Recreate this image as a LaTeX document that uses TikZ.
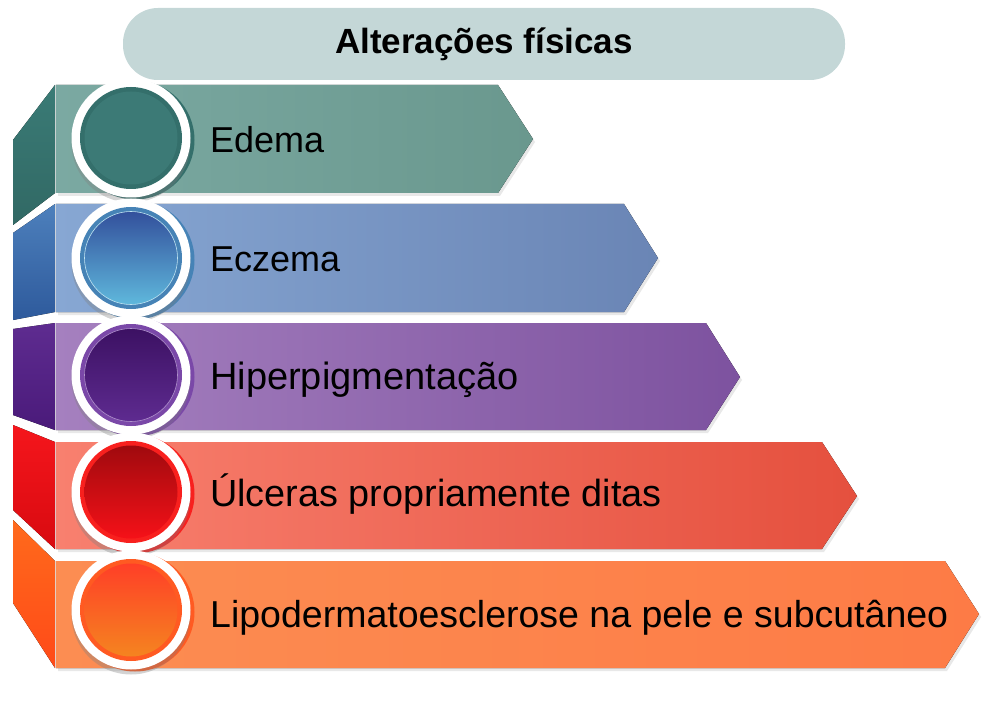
\documentclass[tikz,border=0pt]{standalone}
\usepackage{fontspec}
\setmainfont{Liberation Sans}
\usetikzlibrary{shadows}

% band colours
\definecolor{tealside}{HTML}{3A7B76}
\definecolor{tealfrontA}{HTML}{7BA9A2}
\definecolor{tealfrontB}{HTML}{6A988E}
\definecolor{tealdot}{HTML}{3C7A76}
\definecolor{tealring}{HTML}{346F6B}
\definecolor{blueside}{HTML}{4D80BC}
\definecolor{bluesideB}{HTML}{2E5A9C}
\definecolor{bluefrontA}{HTML}{87A7D3}
\definecolor{bluefrontB}{HTML}{6A85B5}
\definecolor{bluedotA}{HTML}{33509C}
\definecolor{bluedotB}{HTML}{5FB8DC}
\definecolor{bluering}{HTML}{4683B6}
\definecolor{purpside}{HTML}{5E2C90}
\definecolor{purpsideB}{HTML}{4A1A7A}
\definecolor{purpfrontA}{HTML}{A580BF}
\definecolor{purpfrontB}{HTML}{7D529F}
\definecolor{purpdotA}{HTML}{3C1163}
\definecolor{purpdotB}{HTML}{5E2B90}
\definecolor{purpring}{HTML}{7A48A8}
\definecolor{redside}{HTML}{F5161C}
\definecolor{redsideB}{HTML}{D80A10}
\definecolor{redfrontA}{HTML}{F8806F}
\definecolor{redfrontB}{HTML}{E5503E}
\definecolor{reddotA}{HTML}{A00A0E}
\definecolor{reddotB}{HTML}{F51118}
\definecolor{redring}{HTML}{F8201E}
\definecolor{orgside}{HTML}{FF6A1C}
\definecolor{orgsideB}{HTML}{FF4A18}
\definecolor{orgfrontA}{HTML}{FC8D52}
\definecolor{orgfrontB}{HTML}{FD7B46}
\definecolor{orgdotA}{HTML}{FF3F27}
\definecolor{orgdotB}{HTML}{F58420}
\definecolor{orgring}{HTML}{FF5A22}
\definecolor{headfill}{HTML}{C4D7D7}

\tikzset{
  itemtext/.style={anchor=base west, inner sep=0pt, text=black,
    font=\fontsize{36}{40}\selectfont},
  bandshadow/.style={drop shadow={opacity=0.18, shadow xshift=2pt, shadow yshift=-3pt}},
  whitering/.style={circle, fill=white, minimum size=119pt, inner sep=0pt,
    drop shadow={opacity=0.35, shadow xshift=0pt, shadow yshift=-5pt}},
  backring/.style={circle, minimum size=119pt, inner sep=0pt},
  colring/.style={circle, minimum size=102pt, inner sep=0pt},
  dot/.style={circle, minimum size=93pt, inner sep=0pt}
}

\begin{document}
\begin{tikzpicture}[x=1pt, y=-1pt]
  \useasboundingbox (0,0) rectangle (1001,714);

  % Title
  \node[fill=headfill, rounded corners=35pt, minimum width=722pt, minimum height=72pt,
        font=\bfseries\fontsize{35}{40}\selectfont] (title) at (484,44) {Alterações físicas};

  % Band 1 - Edema
  \fill[top color=tealside, bottom color=tealside!85!black] (13,140) -- (55,85) -- (55,193) -- (13,225) -- cycle;
  \fill[bandshadow, left color=tealfrontA, right color=tealfrontB]
    (56,85) -- (498,85) -- (533,139) -- (498,193) -- (56,193) -- cycle;
  \node[backring, fill=tealring] (back1) at (135,140) {};
  \node[whitering] (ring1) at (131,138) {};
  \node[colring, fill=tealring] (col1) at (ring1) {};
  \node[dot, fill=tealdot] (dot1) at (ring1) {};
  \node[itemtext] (t1) at (210,153) {Edema};

  % Band 2 - Eczema
  \fill[top color=blueside, bottom color=bluesideB] (13,233) -- (55,204) -- (55,312) -- (13,320) -- cycle;
  \fill[bandshadow, left color=bluefrontA, right color=bluefrontB]
    (56,204) -- (624,204) -- (658,258) -- (624,312) -- (56,312) -- cycle;
  \node[backring, fill=bluering] (back2) at (135,260) {};
  \node[whitering] (ring2) at (131,258) {};
  \node[colring, fill=bluering] (col2) at (ring2) {};
  \node[dot, top color=bluedotA, bottom color=bluedotB, draw=white!60!bluedotB, line width=0.6pt] (dot2) at (ring2) {};
  \node[itemtext] (t2) at (210,271) {Eczema};

  % Band 3 - Hiperpigmentacao
  \fill[top color=purpside, bottom color=purpsideB] (13,329) -- (55,323) -- (55,430) -- (13,415) -- cycle;
  \fill[bandshadow, left color=purpfrontA, right color=purpfrontB]
    (56,323) -- (706,323) -- (740,377) -- (706,430) -- (56,430) -- cycle;
  \node[backring, fill=purpring] (back3) at (135,377) {};
  \node[whitering] (ring3) at (131,375) {};
  \node[colring, fill=purpring] (col3) at (ring3) {};
  \node[dot, top color=purpdotA, bottom color=purpdotB, draw=purpring!60!white, line width=0.6pt] (dot3) at (ring3) {};
  \node[itemtext, font=\fontsize{38}{42}\selectfont] (t3) at (210,389) {Hiperpigmentação};

  % Band 4 - Ulceras
  \fill[top color=redside, bottom color=redsideB] (13,425) -- (55,442) -- (55,549) -- (13,510) -- cycle;
  \fill[bandshadow, left color=redfrontA, right color=redfrontB]
    (56,442) -- (822,442) -- (857,496) -- (822,549) -- (56,549) -- cycle;
  \node[backring, fill=redring] (back4) at (135,494) {};
  \node[whitering] (ring4) at (131,492) {};
  \node[colring, fill=redring] (col4) at (ring4) {};
  \node[dot, top color=reddotA, bottom color=reddotB] (dot4) at (ring4) {};
  \node[itemtext, font=\fontsize{37.8}{42}\selectfont] (t4) at (210,506) {Úlceras propriamente ditas};

  % Band 5 - Lipodermatoesclerose
  \fill[top color=orgside, bottom color=orgsideB] (13,520) -- (55,561) -- (55,668) -- (13,603) -- cycle;
  \fill[bandshadow, left color=orgfrontA, right color=orgfrontB]
    (56,561) -- (945,561) -- (979,614) -- (945,668) -- (56,668) -- cycle;
  \node[backring, fill=orgring] (back5) at (135,612) {};
  \node[whitering] (ring5) at (131,610) {};
  \node[colring, fill=orgring] (col5) at (ring5) {};
  \node[dot, top color=orgdotA, bottom color=orgdotB] (dot5) at (ring5) {};
  \node[itemtext, font=\fontsize{37.5}{42}\selectfont] (t5) at (210,627) {Lipodermatoesclerose na pele e subcutâneo};

\end{tikzpicture}
\end{document}
